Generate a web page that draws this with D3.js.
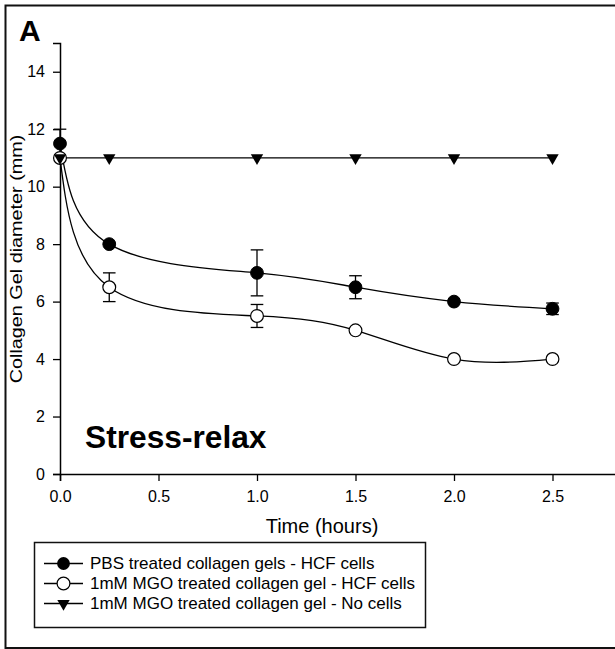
<!DOCTYPE html>
<html>
<head>
<meta charset="utf-8">
<script src="https://cdn.jsdelivr.net/npm/d3@7"></script>
<style>
  html, body { margin: 0; padding: 0; background: #fff; }
  svg { display: block; font-family: "Liberation Sans", Arial, sans-serif; }
</style>
</head>
<body>
<svg id="chart" width="615" height="649"></svg>
<script>
// ---- data ----
const times = [0, 0.25, 1, 1.5, 2, 2.5];
const pbsValues = [11.5, 8, 7, 6.5, 6, 5.75];
const pbsErrors = [0.5, 0, 0.8, 0.4, 0, 0.2];
const mgoValues = [11, 6.5, 5.5, 5, 4, 4];
const mgoErrors = [0, 0.5, 0.4, 0, 0, 0];
const noCellValues = [11, 11, 11, 11, 11, 11];
const xTicks = [0, 0.5, 1, 1.5, 2, 2.5];
const yTicks = [0, 2, 4, 6, 8, 10, 12, 14];
const seriesNames = [
  "PBS treated collagen gels - HCF cells",
  "1mM MGO treated collagen gel - HCF cells",
  "1mM MGO treated collagen gel - No cells"
];

const svg = d3.select("#chart");
const x = d3.scaleLinear().domain([0, 3]).range([60, 651]);
const y = d3.scaleLinear().domain([0, 15]).range([474, 43]);

// frame
svg.append("rect").attr("x", 5.5).attr("y", 5.5).attr("width", 700).attr("height", 642.5)
  .attr("fill", "none").attr("stroke", "#111").attr("stroke-width", 2);

// axes
const xAxis = svg.append("g").attr("transform", "translate(0,474)")
  .call(d3.axisBottom(x).tickValues(xTicks).tickFormat(d3.format(".1f")).tickSizeOuter(0).tickSize(7).tickPadding(10));
const yAxis = svg.append("g").attr("transform", "translate(60,0)")
  .call(d3.axisLeft(y).tickValues(yTicks).tickSizeOuter(0).tickSize(7).tickPadding(8));
[xAxis, yAxis].forEach(a => {
  a.select(".domain").attr("stroke", "#000").attr("stroke-width", 1.5);
  a.selectAll(".tick line").attr("stroke", "#000").attr("stroke-width", 1.3);
  a.selectAll(".tick text").attr("font-size", 16).attr("fill", "#000")
    .attr("font-family", "'Liberation Sans', Arial, sans-serif");
});

// axis titles
svg.append("text").attr("x", 322).attr("y", 533).attr("text-anchor", "middle")
  .attr("font-size", 20).text("Time (hours)");
svg.append("text").attr("transform", "translate(22,259) rotate(-90) scale(1.2,1)")
  .attr("text-anchor", "middle").attr("font-size", 16.5).text("Collagen Gel diameter (mm)");

// panel label and annotation
svg.append("text").attr("x", 19).attr("y", 41).attr("font-size", 30).attr("font-weight", "bold").text("A");
svg.append("text").attr("x", 85).attr("y", 448).attr("font-size", 31.7).attr("font-weight", "bold").text("Stress-relax");

// build series
const pbs = times.map((t, i) => ({ t, v: pbsValues[i], e: pbsErrors[i] }));
const mgo = times.map((t, i) => ({ t, v: mgoValues[i], e: mgoErrors[i] }));
const noc = times.map((t, i) => ({ t, v: noCellValues[i], e: 0 }));

const smooth = d3.line().x(d => x(d.t)).y(d => y(d.v)).curve(d3.curveNatural);
const straight = d3.line().x(d => x(d.t)).y(d => y(d.v));

// error bars
function errorBars(data) {
  const g = svg.append("g").attr("stroke", "#000").attr("stroke-width", 1.3);
  data.filter(d => d.e > 0).forEach(d => {
    const cx = x(d.t), y1 = y(d.v + d.e), y2 = y(d.v - d.e);
    g.append("line").attr("x1", cx).attr("x2", cx).attr("y1", y1).attr("y2", y2);
    g.append("line").attr("x1", cx - 6.3).attr("x2", cx + 6.3).attr("y1", y1).attr("y2", y1);
    g.append("line").attr("x1", cx - 6.3).attr("x2", cx + 6.3).attr("y1", y2).attr("y2", y2);
  });
}
errorBars(pbs);
errorBars(mgo);

// lines
svg.append("path").attr("d", smooth(pbs)).attr("fill", "none").attr("stroke", "#000").attr("stroke-width", 1.3);
svg.append("path").attr("d", smooth(mgo)).attr("fill", "none").attr("stroke", "#000").attr("stroke-width", 1.3);
svg.append("path").attr("d", straight(noc)).attr("fill", "none").attr("stroke", "#000").attr("stroke-width", 1.3);

// markers
const tri = d3.symbol().type(d3.symbolTriangle).size(66);
svg.append("g").selectAll("circle").data(pbs).join("circle")
  .attr("cx", d => x(d.t)).attr("cy", d => y(d.v)).attr("r", 6.4)
  .attr("fill", "#000").attr("stroke", "#000").attr("stroke-width", 1);
svg.append("g").selectAll("circle").data(mgo).join("circle")
  .attr("cx", d => x(d.t)).attr("cy", d => y(d.v)).attr("r", 6.4)
  .attr("fill", "#fff").attr("stroke", "#000").attr("stroke-width", 1.2);
svg.append("g").selectAll("path").data(noc).join("path")
  .attr("d", tri)
  .attr("transform", d => `translate(${x(d.t)},${y(d.v)}) rotate(180)`)
  .attr("fill", "#000");

// legend
const legend = svg.append("g");
legend.append("rect").attr("x", 34.5).attr("y", 542.5).attr("width", 391).attr("height", 85)
  .attr("fill", "#fff").attr("stroke", "#111").attr("stroke-width", 1.5);
const rowY = [563.5, 583.5, 603.5];
seriesNames.forEach((name, i) => {
  const cy = rowY[i];
  legend.append("line").attr("x1", 44).attr("x2", 83).attr("y1", cy).attr("y2", cy)
    .attr("stroke", "#000").attr("stroke-width", 1.3);
  if (i === 0) {
    legend.append("circle").attr("cx", 63.5).attr("cy", cy).attr("r", 6.4).attr("fill", "#000");
  } else if (i === 1) {
    legend.append("circle").attr("cx", 63.5).attr("cy", cy).attr("r", 6.4)
      .attr("fill", "#fff").attr("stroke", "#000").attr("stroke-width", 1.2);
  } else {
    legend.append("path").attr("d", tri).attr("transform", `translate(63.5,${cy}) rotate(180)`).attr("fill", "#000");
  }
  legend.append("text").attr("x", 90).attr("y", cy + 5.5).attr("font-size", 17).text(name);
});
</script>
</body>
</html>
